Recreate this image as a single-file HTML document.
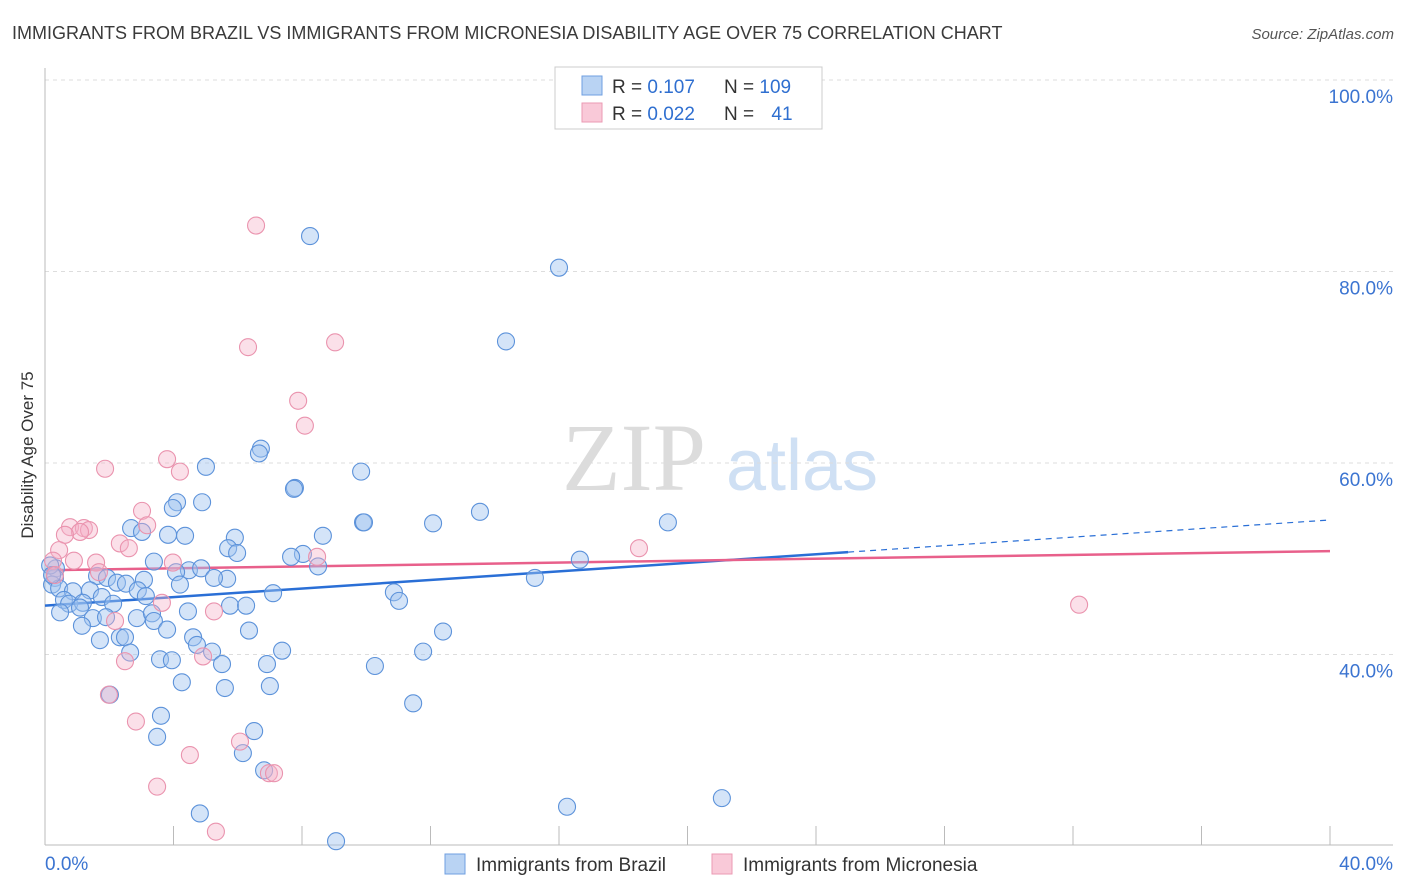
<!DOCTYPE html>
<html><head><meta charset="utf-8"><style>
body{margin:0;background:#fff;font-family:"Liberation Sans",sans-serif;}
#wrap{position:relative;width:1406px;height:892px;overflow:hidden;}
</style></head><body>
<div id="wrap">
<svg id="svg" width="1406" height="892" xmlns="http://www.w3.org/2000/svg">
<text x="12" y="39" font-size="18" fill="#3a3a3a">IMMIGRANTS FROM BRAZIL VS IMMIGRANTS FROM MICRONESIA DISABILITY AGE OVER 75 CORRELATION CHART</text>
<text x="1394" y="39" font-size="15" fill="#555" font-style="italic" text-anchor="end">Source: ZipAtlas.com</text>
<text x="33" y="455" font-size="17" fill="#333" text-anchor="middle" transform="rotate(-90 33 455)">Disability Age Over 75</text>
<g>
<text x="634" y="490" font-size="96" font-family="Liberation Serif,serif" fill="#dcdcdc" text-anchor="middle">ZIP</text>
<text x="802" y="490" font-size="72" fill="#cfe0f4" text-anchor="middle">atlas</text>
</g>
<g id="grid"></g>
<g id="axes"></g>
<g id="lines"></g>
<g id="pts"></g>
<g>
<rect x="555" y="67" width="267" height="62" fill="#fff" stroke="#ccc"/>
<rect x="582" y="76" width="20" height="19" fill="#b9d3f3" stroke="#6f9fe0"/>
<rect x="582" y="103" width="20" height="19" fill="#f9c9d8" stroke="#eb9ab3"/>
<text x="612" y="93" font-size="19" fill="#333">R = <tspan fill="#2f6fd0">0.107</tspan></text>
<text x="724" y="93" font-size="19" fill="#333">N = <tspan fill="#2f6fd0">109</tspan></text>
<text x="612" y="120" font-size="19" fill="#333">R = <tspan fill="#2f6fd0">0.022</tspan></text>
<text x="724" y="120" font-size="19" fill="#333">N = <tspan fill="#2f6fd0" dx="12">41</tspan></text>
</g>
<g>
<rect x="445" y="854" width="20" height="20" fill="#b9d3f3" stroke="#6f9fe0"/>
<text x="476" y="871" font-size="19" fill="#333">Immigrants from Brazil</text>
<rect x="712" y="854" width="20" height="20" fill="#f9c9d8" stroke="#eb9ab3"/>
<text x="743" y="871" font-size="19" fill="#333">Immigrants from Micronesia</text>
</g>
</svg>
</div>
<script>
const yTicks=[40,60,80,100];
const yTickLabels=["40.0%","60.0%","80.0%","100.0%"];
const xTicks=[0,4,8,12,16,20,24,28,32,36,40];
const xEndLabels=["0.0%","40.0%"];
const brazilX=[8.25,16.0,14.35,6.72,6.66,5.01,9.84,7.78,7.75,4.11,4.89,3.98,13.54,9.9,9.93,12.08,19.39,2.68,3.02,3.83,4.36,5.91,8.65,5.70,5.98,8.03,7.66,16.65,3.39,8.50,0.34,4.48,4.86,1.62,4.08,5.67,5.26,1.93,3.08,2.24,2.52,15.25,4.20,0.31,0.22,0.44,0.87,1.40,2.89,3.14,1.77,7.10,10.86,11.02,0.59,0.75,1.18,2.12,1.09,5.76,6.26,4.45,0.47,1.49,2.86,3.33,1.90,3.39,1.15,3.80,6.35,12.39,2.33,2.49,1.71,4.61,4.73,5.20,2.65,7.38,11.77,3.58,3.95,5.51,6.91,10.27,4.26,5.60,7.00,2.02,11.46,3.61,3.49,6.51,6.16,6.82,16.25,21.07,4.82,9.06,0.16,0.22];
const brazilY=[83.7,80.4,72.7,61.5,61.0,59.6,59.1,57.4,57.3,55.9,55.9,55.3,54.9,53.8,53.8,53.7,53.8,53.2,52.8,52.5,52.4,52.2,52.4,51.1,50.6,50.5,50.2,49.9,49.7,49.2,49.0,48.8,49.0,48.2,48.6,47.9,48.0,48.0,47.8,47.5,47.4,48.0,47.3,48.0,47.3,46.9,46.6,46.7,46.7,46.1,46.0,46.4,46.5,45.6,45.7,45.3,45.4,45.3,44.9,45.1,45.1,44.5,44.4,43.8,43.8,44.3,43.9,43.5,43.0,42.6,42.5,42.4,41.8,41.8,41.5,41.8,41.0,40.3,40.2,40.4,40.3,39.5,39.4,39.0,39.0,38.8,37.1,36.5,36.7,35.8,34.9,33.6,31.4,32.0,29.7,27.9,24.1,25.0,23.4,20.5,49.3,48.3];
const micX=[6.57,6.32,9.03,7.88,8.09,3.80,4.20,1.87,3.02,3.18,0.78,1.21,1.37,1.09,0.62,2.33,2.61,0.44,18.49,0.90,0.25,8.47,3.98,1.59,1.68,0.31,3.64,5.26,32.19,2.18,2.49,4.92,1.99,2.83,6.07,4.51,6.97,7.13,3.49,5.32];
const micY=[84.8,72.1,72.6,66.5,63.9,60.4,59.1,59.4,55.0,53.5,53.3,53.2,53.0,52.8,52.5,51.6,51.1,50.9,51.1,49.8,49.8,50.2,49.6,49.6,48.6,48.3,45.4,44.5,45.2,43.5,39.3,39.8,35.8,33.0,30.9,29.5,27.6,27.6,26.2,21.5];
const brazilTrend=[45.1,54.05]; // y at x=0 and x=40
const micTrend=[48.8,50.8];
const brazilSolidEnd=25;

const X0=45,X1=1330,Y100=80,YPER=9.575;
function sx(v){return X0+(v/40)*(X1-X0);}
function sy(v){return Y100+(100-v)*YPER;}
const NS="http://www.w3.org/2000/svg";
function mk(tag,attrs,parent){const e=document.createElementNS(NS,tag);for(const k in attrs)e.setAttribute(k,attrs[k]);parent.appendChild(e);return e;}
const grid=document.getElementById('grid'),axes=document.getElementById('axes'),lines=document.getElementById('lines'),pts=document.getElementById('pts');
yTicks.forEach((t,i)=>{
 const l=mk('line',{x1:X0,x2:1393,y1:sy(t),y2:sy(t),stroke:'#ddd','stroke-dasharray':'4,4'},grid);
 
 
 const tx=mk('text',{x:1393,y:sy(t)+23,'font-size':19,fill:'#3b74d1','text-anchor':'end'},axes);
 tx.textContent=yTickLabels[i];
 
 
});
const ax=mk('line',{x1:X0,x2:1393,y1:845,y2:845,stroke:'#bbb'},axes);


const ay=mk('line',{x1:X0,x2:X0,y1:68,y2:845,stroke:'#bbb'},axes);


xTicks.forEach(t=>{
 const l=mk('line',{x1:sx(t),x2:sx(t),y1:826,y2:845,stroke:'#bbb'},axes);
 
 
});
[[0,'start',45],[40,'end',1393]].forEach((d,i)=>{
 const tx=mk('text',{x:d[2],y:870,'font-size':19,fill:'#3b74d1','text-anchor':d[1]},axes);
 tx.textContent=xEndLabels[i];
 
 
});
function drawPts(xs,ys,fill,stroke,name){
 xs.forEach((x,i)=>{
  const c=mk('circle',{cx:sx(x),cy:sy(ys[i]),r:8.5,fill:fill,stroke:stroke,'stroke-width':1.1},pts);
  
  
 });
}
drawPts(brazilX,brazilY,'rgba(160,196,240,0.45)','#5c92da','point-brazil');
drawPts(micX,micY,'rgba(246,178,200,0.4)','#ea93ae','point-micronesia');
function ty(tr,x){return tr[0]+(tr[1]-tr[0])*x/40;}
const b1=mk('line',{x1:sx(0),y1:sy(ty(brazilTrend,0)),x2:sx(brazilSolidEnd),y2:sy(ty(brazilTrend,brazilSolidEnd)),stroke:'#2a6fd6','stroke-width':2.5},lines);


const b2=mk('line',{x1:sx(brazilSolidEnd),y1:sy(ty(brazilTrend,brazilSolidEnd)),x2:sx(39.9),y2:sy(ty(brazilTrend,39.9)),stroke:'#2a6fd6','stroke-width':1.2,'stroke-dasharray':'6,5'},lines);


const m1=mk('line',{x1:sx(0),y1:sy(ty(micTrend,0)),x2:sx(40),y2:sy(ty(micTrend,40)),stroke:'#e8608b','stroke-width':2.5},lines);


</script>
</body></html>
